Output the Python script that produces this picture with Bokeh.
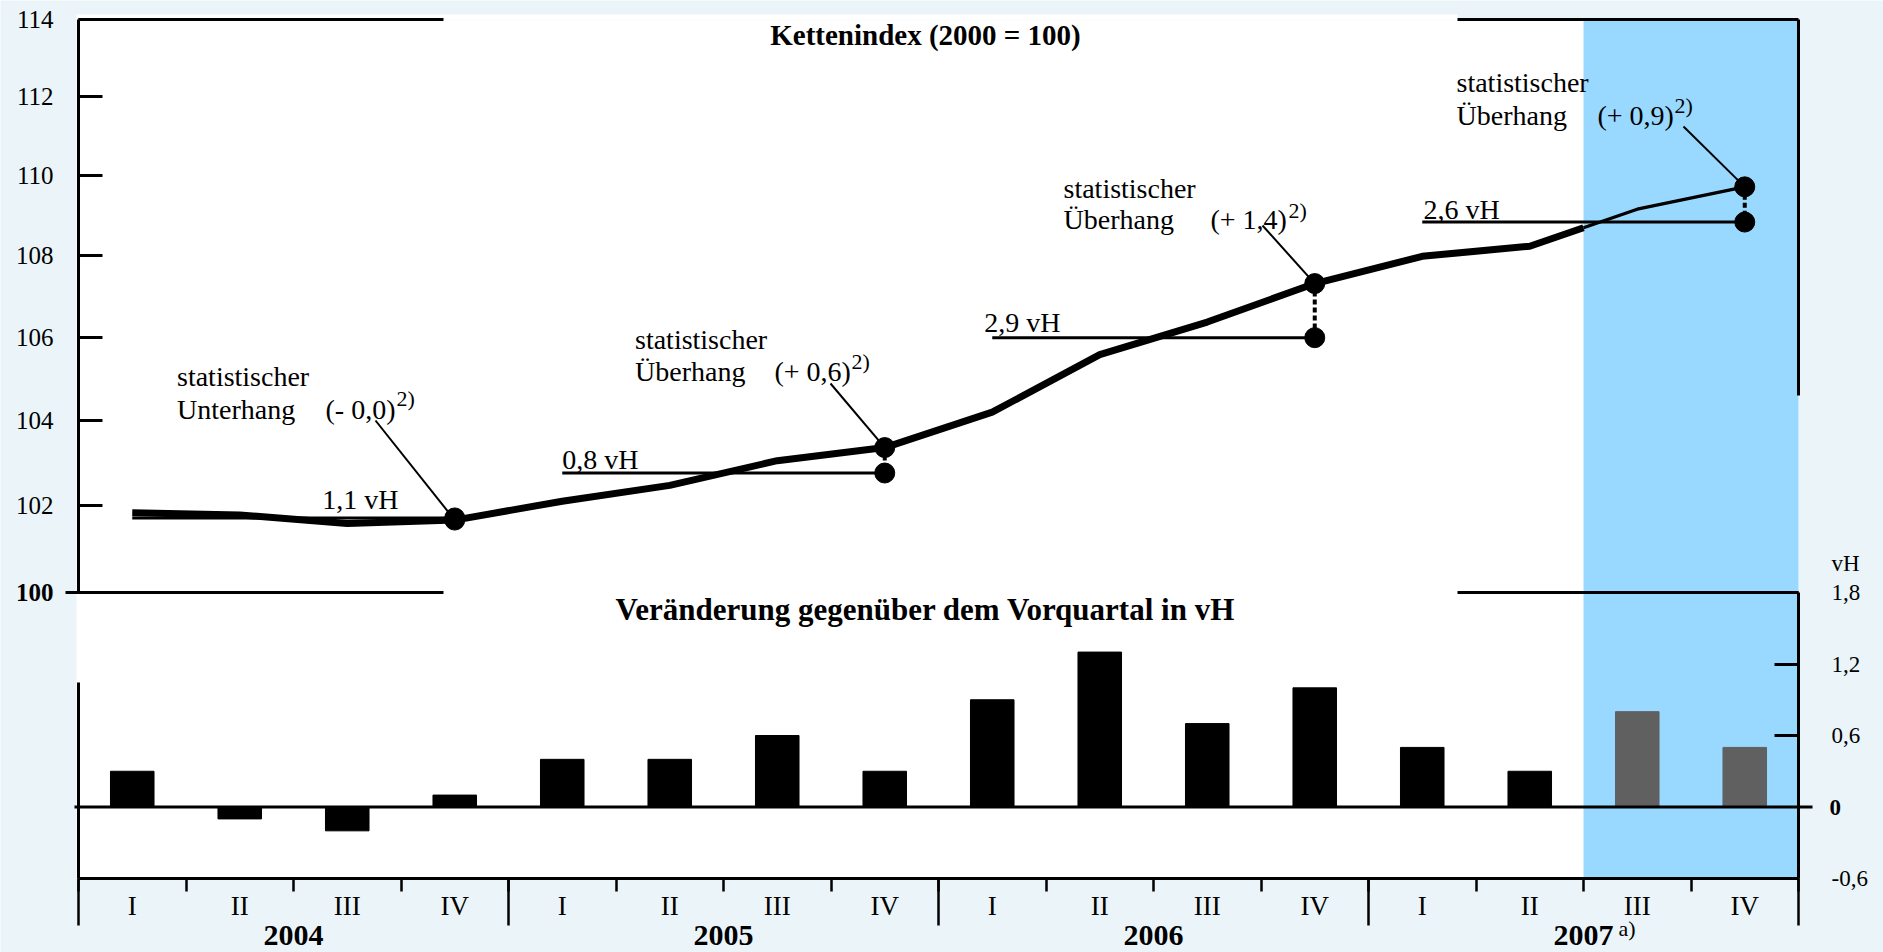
import math
from bokeh.plotting import figure
from bokeh.models import (Range1d, LogScale, LinearAxis, FixedTicker, Label, BoxAnnotation,
                          CustomJSTickFormatter, ColumnDataSource)
from bokeh.embed import file_html
from bokeh.resources import INLINE

# ---------------- data ----------------
years = ["2004", "2005", "2006", "2007"]
quarters = ["I", "II", "III", "IV"]
index_values = [101.84, 101.79, 101.59, 101.67, 102.11, 102.48, 103.06, 103.37,
                104.21, 105.59, 106.38, 107.32, 107.99, 108.24, 109.16, 109.72]
growth_values = [0.3, -0.1, -0.2, 0.1, 0.4, 0.4, 0.6, 0.3,
                 0.9, 1.3, 0.7, 1.0, 0.5, 0.3, 0.8, 0.5]
annual_average = [101.72, 102.77, 106.00, 108.84]
annual_growth_labels = ["1,1 vH", "0,8 vH", "2,9 vH", "2,6 vH"]
overhang_words = ["Unterhang", "Überhang", "Überhang", "Überhang"]
overhang_values = ["(- 0,0)", "(+ 0,6)", "(+ 1,4)", "(+ 0,9)"]
forecast_start = 14          # 2007 III is the first forecast quarter
index_ticks = [102, 104, 106, 108, 110, 112, 114]
growth_ticks = [-0.6, 0.6, 1.2, 1.8]
title_top = "Kettenindex (2000 = 100)"
title_bottom = "Veränderung gegenüber dem Vorquartal in vH"

# ---------------- layout (page pixels) ----------------
FONT = "Liberation Serif"
BG = "#EBF5F9"
FORECAST_BG = "#99D9FF"
FORECAST_BAR = "#606060"
W, H = 1883, 952
FL, FR, FB = 78, 1798, 878
Y_SPLIT = 592     # index 100 / growth 1,8
Y_TOPLINE = 19    # index 114
N = len(index_values)
QW = (FR - FL) / N
g_ppu = (FB - Y_SPLIT) / (1.8 - (-0.6))
k = math.log(1.14) / (Y_SPLIT - Y_TOPLINE)


def qx(px):
    return (px - FL) / QW


def gy(py):
    return -0.6 + (FB - py) / g_ppu


def iy(py):
    return 100 * math.exp((Y_SPLIT - py) * k)


p = figure(width=W, height=H, x_range=Range1d(qx(0), qx(W)), y_range=Range1d(gy(H), gy(0)),
           x_axis_location=None, y_axis_location=None,
           output_backend="svg", toolbar_location=None,
           min_border_left=0, min_border_right=0, min_border_top=0, min_border_bottom=0)
p.extra_y_ranges = {"idx": Range1d(iy(H), iy(0))}
p.extra_y_scales = {"idx": LogScale()}
p.background_fill_color = BG
p.border_fill_color = BG
p.outline_line_color = None
p.xgrid.visible = False
p.ygrid.visible = False

# white chart area, title gap, forecast shading
gap_l, gap_r = qx(443), qx(1457)
p.add_layout(BoxAnnotation(left=qx(76), right=N, bottom=-0.6, top=gy(Y_TOPLINE),
                           fill_color="white", fill_alpha=1, line_color=None, level="underlay"))
p.add_layout(BoxAnnotation(left=qx(76), right=gap_r, bottom=gy(Y_TOPLINE), top=gy(14),
                           fill_color="white", fill_alpha=1, line_color=None, level="underlay"))
p.add_layout(BoxAnnotation(left=forecast_start, right=N, bottom=-0.6, top=gy(Y_TOPLINE),
                           fill_color=FORECAST_BG, fill_alpha=1, line_color=None, level="underlay"))

# axes
ax_l = LinearAxis(y_range_name="idx", ticker=FixedTicker(ticks=index_ticks), bounds=(100, 114),
                  fixed_location=0)
ax_r = LinearAxis(ticker=FixedTicker(ticks=growth_ticks), bounds=(-0.6, 1.8), fixed_location=N,
                  formatter=CustomJSTickFormatter(code="return tick.toFixed(1).replace('.', ',')"))
for ax, fs, so in ((ax_l, "25px", 25), (ax_r, "23px", 33)):
    ax.axis_line_width = 3
    ax.major_tick_in = 24
    ax.major_tick_out = 0
    ax.major_tick_line_width = 3
    ax.minor_tick_line_color = None
    ax.major_label_standoff = so
    ax.major_label_text_font = FONT
    ax.major_label_text_font_size = fs
    ax.major_label_text_color = "black"
p.add_layout(ax_l, "left")
p.add_layout(ax_r, "right")

centers = [i + 0.5 for i in range(N)]
ax_q = LinearAxis(ticker=FixedTicker(ticks=centers, minor_ticks=list(range(N + 1))),
                  bounds=(0, N), fixed_location=-0.6,
                  formatter=CustomJSTickFormatter(args=dict(labels=quarters),
                                                  code="return labels[Math.floor(tick) % labels.length]"))
ax_q.axis_line_width = 3
ax_q.major_tick_line_color = None
ax_q.major_tick_in = 0
ax_q.major_tick_out = 13
ax_q.minor_tick_in = 0
ax_q.minor_tick_out = 13
ax_q.minor_tick_line_width = 2.5
ax_q.major_label_standoff = -1
ax_q.major_label_text_font = FONT
ax_q.major_label_text_font_size = "27px"
ax_q.major_label_text_color = "black"
p.add_layout(ax_q, "below")

year_centers = [4 * j + 2 for j in range(len(years))]
ax_y = LinearAxis(ticker=FixedTicker(ticks=year_centers), bounds=(0, N), fixed_location=-0.6,
                  formatter=CustomJSTickFormatter(args=dict(labels=years),
                                                  code="return labels[Math.floor(tick / 4)]"))
ax_y.axis_line_color = None
ax_y.major_tick_line_color = None
ax_y.major_tick_in = 0
ax_y.major_tick_out = 0
ax_y.minor_tick_line_color = None
ax_y.major_label_standoff = 47
ax_y.major_label_text_font = FONT
ax_y.major_label_text_font_size = "30px"
ax_y.major_label_text_font_style = "bold"
ax_y.major_label_text_color = "black"
p.add_layout(ax_y, "below")

# frame lines
p.segment(x0=[0, gap_r, qx(65), gap_r], x1=[gap_l, N, gap_l, N],
          y0=[gy(Y_TOPLINE), gy(Y_TOPLINE), 1.8, 1.8], y1=[gy(Y_TOPLINE), gy(Y_TOPLINE), 1.8, 1.8],
          line_width=3, color="black")
p.segment(x0=[N, 0], x1=[N, 0], y0=[gy(395), gy(682)], y1=[gy(Y_TOPLINE), -0.6],
          line_width=3, color="black")
year_bounds = [4 * j for j in range(len(years) + 1)]
p.segment(x0=year_bounds, x1=year_bounds, y0=[-0.6] * len(year_bounds), y1=[gy(925)] * len(year_bounds),
          line_width=2.5, color="black")

# bars
bar_colors = ["black"] * forecast_start + [FORECAST_BAR] * (N - forecast_start)
p.vbar(x="x", top="top", width=0.405, color="color",
       source=ColumnDataSource(dict(x=centers, top=growth_values, color=bar_colors)))
p.segment(x0=[qx(74)], x1=[qx(1812)], y0=[0], y1=[0], line_width=3, color="black")

# index line
edge = math.sqrt(index_values[forecast_start - 1] * index_values[forecast_start])
p.line(centers[:forecast_start] + [forecast_start], index_values[:forecast_start] + [edge],
       line_width=7, color="black", y_range_name="idx")
p.line([forecast_start] + centers[forecast_start:], [edge] + index_values[forecast_start:],
       line_width=3.3, color="black", y_range_name="idx")

# annual averages and overhangs
q4x = [4 * j + 3.5 for j in range(len(years))]
q4v = [index_values[4 * j + 3] for j in range(len(years))]
p.segment(x0=[4 * j + 0.5 for j in range(len(years))], x1=q4x, y0=annual_average, y1=annual_average,
          line_width=3, color="black", y_range_name="idx")
p.segment(x0=q4x, x1=q4x, y0=q4v, y1=annual_average, line_width=4, line_dash="5 3",
          color="black", y_range_name="idx")
p.scatter(x=q4x + q4x, y=q4v + annual_average, size=20, marker="circle", color="black",
          y_range_name="idx")

leader_start_px = [(375, 420), (830, 383), (1262, 225), (1683, 126)]
p.segment(x0=[qx(a) for a, b in leader_start_px], y0=[iy(b) for a, b in leader_start_px],
          x1=q4x, y1=q4v, line_width=2, color="black", y_range_name="idx")


def lab(text, px, py, size, bold=False, align="left"):
    p.add_layout(Label(x=qx(px), y=gy(py), text=text, text_font=FONT,
                       text_font_size=f"{size}px", text_font_style="bold" if bold else "normal",
                       text_align=align, text_baseline="middle", text_color="black"))


# annotation text centres (page px): x, line1, line2, x of value, x of note, note centre
ann_pos = [(176.5, 376, 409, 325, 396, 398),
           (634.5, 339, 371, 774, 851, 361),
           (1063, 188, 219, 1210, 1288, 210),
           (1456, 81.5, 115, 1597, 1674, 105)]
for j, (x, c1, c2, xv, xs, cs) in enumerate(ann_pos):
    lab("statistischer", x, c1, 28)
    lab(overhang_words[j], x, c2, 28)
    lab(overhang_values[j], xv, c2, 28)
    lab("2)", xs, cs, 22)

growth_label_pos = [(321.7, 499), (561.8, 459), (983.7, 322), (1423, 209)]
for j, (x, c) in enumerate(growth_label_pos):
    lab(annual_growth_labels[j], x, c, 28)

lab(title_top, 925, 34, 29, bold=True, align="center")
lab(title_bottom, 925, 609, 31, bold=True, align="center")
lab("100", 53, Y_SPLIT, 25, bold=True, align="right")
lab("0", 1829, 807, 23, bold=True)
lab("vH", 1831, 563, 23)
lab("a)", 1618, 928, 22)

open("out.html", "w").write(file_html(p, INLINE))
